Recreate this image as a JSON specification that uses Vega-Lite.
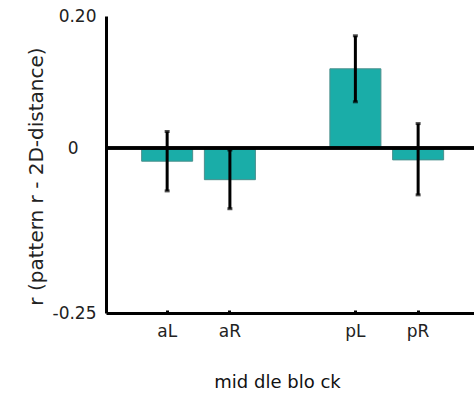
{
  "$schema": "https://vega.github.io/schema/vega-lite/v6.json",
  "autosize": "none",
  "width": 368,
  "height": 297,
  "padding": {"left": 106, "top": 16, "right": 0, "bottom": 80},
  "config": {
    "view": {"stroke": null},
    "font": "DejaVu Sans"
  },
  "data": {
    "values": [
      {"cond": "aL", "r": -0.020, "lo": -0.065, "hi": 0.025},
      {"cond": "aR", "r": -0.048, "lo": -0.092, "hi": -0.003},
      {"cond": "pL", "r": 0.120, "lo": 0.070, "hi": 0.170},
      {"cond": "pR", "r": -0.018, "lo": -0.071, "hi": 0.037}
    ]
  },
  "layer": [
    {
      "mark": {"type": "bar", "color": "#1AADA8", "stroke": "#4a8f8c", "strokeWidth": 1},
      "encoding": {
        "x": {
          "field": "cond",
          "type": "nominal",
          "scale": {"domain": ["aL", "aR", "gap", "pL", "pR"], "paddingInner": 0.187, "paddingOuter": 0.526, "align": 0.54},
          "axis": {
            "values": ["aL", "aR", "pL", "pR"],
            "labelAngle": 0,
            "labelFont": "DejaVu Sans",
            "labelFontSize": 17,
            "labelColor": "#222222",
            "labelPadding": 13,
            "domainColor": "#000000",
            "domainWidth": 3,
            "tickColor": "#000000",
            "tickSize": -3,
            "tickWidth": 3,
            "title": "mid dle blo ck",
            "titleFont": "DejaVu Sans",
            "titleFontSize": 18,
            "titleFontWeight": "normal",
            "titleColor": "#111111",
            "titleX": 171,
            "titleY": 74,
            "titleAlign": "center",
            "titleBaseline": "alphabetic"
          }
        },
        "y": {
          "field": "r",
          "type": "quantitative",
          "scale": {"domain": [-0.25, 0.2], "nice": false, "zero": false},
          "axis": {
            "values": [-0.25, 0, 0.2],
            "labelExpr": "datum.value == 0 ? '0' : (datum.value > 0 ? '0.20' : '-0.25')",
            "labelFont": "DejaVu Sans",
            "labelFontSize": 17,
            "labelColor": "#222222",
            "labelPadding": {"condition": {"test": "datum.value == 0", "value": 28}, "value": 10},
            "ticks": false,
            "grid": false,
            "domainColor": "#000000",
            "domainWidth": 3,
            "title": "r (pattern r - 2D-distance)",
            "titleFont": "DejaVu Sans",
            "titleFontSize": 20,
            "titleFontWeight": "normal",
            "titleColor": "#222222",
            "titleAngle": -90,
            "titleX": -64,
            "titleY": 160,
            "titleAlign": "center",
            "titleBaseline": "alphabetic"
          }
        }
      }
    },
    {
      "mark": {"type": "rule", "color": "#000000", "strokeWidth": 3},
      "encoding": {"y": {"datum": 0}}
    },
    {
      "mark": {"type": "rule", "color": "#000000", "strokeWidth": 3},
      "encoding": {
        "x": {"field": "cond", "type": "nominal"},
        "y": {"field": "lo", "type": "quantitative"},
        "y2": {"field": "hi"}
      }
    },
    {
      "mark": {"type": "tick", "color": "#000000", "size": 5, "thickness": 3},
      "encoding": {
        "x": {"field": "cond", "type": "nominal"},
        "y": {"field": "lo", "type": "quantitative"}
      }
    },
    {
      "mark": {"type": "tick", "color": "#000000", "size": 5, "thickness": 3},
      "encoding": {
        "x": {"field": "cond", "type": "nominal"},
        "y": {"field": "hi", "type": "quantitative"}
      }
    }
  ]
}
